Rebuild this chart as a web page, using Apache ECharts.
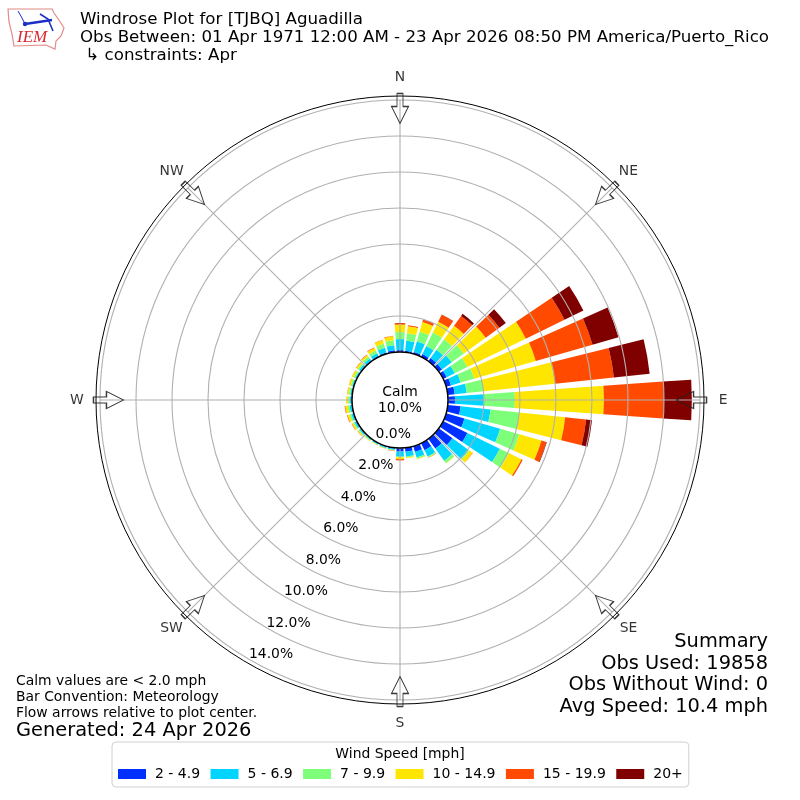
<!DOCTYPE html>
<html><head><meta charset="utf-8">
<style>html,body{margin:0;padding:0;background:#fff}#c{width:800px;height:800px}</style>
<script src="https://cdn.jsdelivr.net/npm/echarts@6/dist/echarts.min.js"></script>
</head><body><div id="c"></div>
<script>
const directions = [0,10,20,30,40,50,60,70,80,90,100,110,120,130,140,150,160,170,180,190,200,210,220,230,240,250,260,270,280,290,300,310,320,330,340,350];
const speed2to5 = [.11,.08,.11,.17,.22,.22,.22,.28,.39,.39,.72,1.06,1.5,.94,.67,.44,.33,.22,.2,.06,.06,.04,.04,.05,.05,.05,.05,.04,.03,.03,.03,.05,.05,.06,.08,.11];
const speed5to7 = [.61,.56,.61,.5,.56,.67,.5,.56,.67,1.61,1.67,2.06,2.0,1.11,.83,.39,.33,.28,.28,.06,.06,.06,.06,.08,.1,.1,.1,.1,.08,.08,.08,.1,.13,.17,.28,.28];
const speed7to10 = [.39,.42,.56,.83,.72,.83,.78,.78,.94,1.72,1.61,1.11,.56,.06,.17,.06,.08,.06,.03,.03,.03,.03,.04,.06,.08,.1,.1,.08,.08,.08,.09,.1,.14,.17,.22,.28];
const speed10to15 = [.42,.39,.56,.67,.94,1.5,3.61,3.56,4.0,4.94,2.56,1.28,.78,.22,.02,.02,.03,.03,.11,.03,.02,.02,.03,.06,.08,.12,.15,.09,.09,.1,.1,.1,.11,.17,.22,.22];
const speed15to20 = [.08,.06,.14,.44,.67,.94,2.39,3.28,3.28,3.33,1.17,.28,.08,.01,0,.01,0,0,.07,.01,0,0,0,.01,.02,.03,.03,.01,.01,.01,.01,.02,.02,.03,.01,.03];
const speed20plus = [0,0,.01,.01,.14,.44,1.17,1.5,2.0,1.56,.33,.03,0,0,0,0,0,0,0,0,0,0,0,0,0,0,0,0,0,0,0,0,0,0,0,0];
const speedNames = ['2 - 4.9','5 - 6.9','7 - 9.9','10 - 14.9','15 - 19.9','20+'];
const speedColors = ['#0030ff','#00d4ff','#7dff7a','#ffe600','#ff4a00','#800000'];
const speedValues = [speed2to5,speed5to7,speed7to10,speed10to15,speed15to20,speed20plus];
const compassNames = ['N','NE','E','SE','S','SW','W','NW'];
const arrowBearings = [0,45,90,135,180,225,270,315];
const arrowRadius = 13.53;
const compassLabelRadius = 15.28;
const headerLines = ['Windrose Plot for [TJBQ] Aguadilla','Obs Between: 01 Apr 1971 12:00 AM - 23 Apr 2026 08:50 PM America/Puerto_Rico',' \u21B3 constraints: Apr'];
const noteLines = ['Calm values are < 2.0 mph','Bar Convention: Meteorology','Flow arrows relative to plot center.'];
const generatedLine = 'Generated: 24 Apr 2026';
const summaryLines = ['Summary','Obs Used: 19858','Obs Without Wind: 0','Avg Speed: 10.4 mph'];
const calmLines = ['Calm','10.0%'];
const legendTitle = 'Wind Speed [mph]';

const FONT = '"DejaVu Sans"';
const CX = 400, CY = 400;
const txt = (text,x,y,size,align) => ({type:'text',z:20,silent:true,x,y,style:{text,font:size+'px '+FONT,fill:'#000',textAlign:align||'left',textVerticalAlign:'middle'}});
const graphics = [
  {type:'circle',z:10,silent:true,shape:{cx:CX,cy:CY,r:304},style:{fill:'none',stroke:'#000',lineWidth:1}},
  {type:'circle',z:10,silent:true,shape:{cx:CX,cy:CY,r:48},style:{fill:'#fff',stroke:'#000',lineWidth:1.5}},
  txt(calmLines[0],400,392,13.9,'center'),txt(calmLines[1],400,408,13.9,'center'),
  txt(headerLines[0],80,20,16.67),txt(headerLines[1],80,37.5,16.67),txt(headerLines[2],80,56,16.67),
  txt(noteLines[0],16,681,13.9),txt(noteLines[1],16,697,13.9),txt(noteLines[2],16,713,13.9),
  txt(generatedLine,16,731,19.4),
  txt(summaryLines[0],768,642,19.4,'right'),txt(summaryLines[1],768,664,19.4,'right'),txt(summaryLines[2],768,685,19.4,'right'),txt(summaryLines[3],768,707,19.4,'right'),
  txt(legendTitle,400,754,13.9,'center'),
  // IEM logo
  {type:'polygon',z:12,silent:true,shape:{points:[[8,9],[52,9],[54,13],[59,20],[64,28],[61,36],[56,41],[55,49],[46,45],[14,46],[12,34],[9,22]]},style:{fill:'#fff',stroke:'#e38a8a',lineWidth:1.2}},
  {type:'polyline',z:13,silent:true,shape:{points:[[25,24],[52,20]]},style:{stroke:'#1a2fc8',lineWidth:2.4,fill:'none'}},
  {type:'polyline',z:13,silent:true,shape:{points:[[18,11],[22,18],[25,24]]},style:{stroke:'#1a2fc8',lineWidth:1,fill:'none'}},
  {type:'polyline',z:13,silent:true,shape:{points:[[40,14],[48,19],[53,31]]},style:{stroke:'#1a2fc8',lineWidth:1.6,fill:'none'}},
  {type:'circle',z:13,silent:true,shape:{cx:25,cy:24,r:2.2},style:{fill:'#1a2fc8'}},
  {type:'text',z:13,silent:true,x:17,y:38,style:{text:'IEM',font:'italic 17px "Liberation Serif"',fill:'#d9282f',textVerticalAlign:'middle'}}
];
const option = {
  animation:false,
  backgroundColor:'#fff',
  polar:[
    {center:[CX,CY],radius:[48,300]},
    {center:[CX,CY],radius:[48,300]},
    {center:[416.5,392],radius:[48,300]}
  ],
  angleAxis:[
    {polarIndex:0,type:'category',data:directions.map(String),boundaryGap:false,startAngle:90,clockwise:true,show:false},
    {polarIndex:1,type:'value',min:0,max:360,interval:45,startAngle:90,clockwise:true,z:5,
      axisLine:{show:false},axisTick:{show:false},axisLabel:{show:false},
      splitLine:{show:true,lineStyle:{color:'#b0b0b0',width:1.1}}},
    {polarIndex:2,type:'value',min:0,max:360,startAngle:241,clockwise:true,show:false}
  ],
  radiusAxis:[
    {polarIndex:0,type:'value',min:0,max:14,show:false},
    {polarIndex:1,type:'value',min:0,max:14,interval:2,z:5,axisLine:{show:false},axisTick:{show:false},axisLabel:{show:false},
      splitLine:{show:true,lineStyle:{color:'#b0b0b0',width:1.1}}},
    {polarIndex:2,type:'value',min:0,max:14,interval:2,z:15,axisLine:{show:false},axisTick:{show:false},splitLine:{show:false},
      axisLabel:{show:true,margin:0,align:'center',verticalAlign:'middle',color:'#000',fontSize:13.9,fontFamily:FONT,hideOverlap:false,formatter:v=>v.toFixed(1)+'%'}}
  ],
  legend:{
    left:112,top:742,padding:[25,6,6,6],orient:'horizontal',
    data:speedNames,itemWidth:28,itemHeight:10,itemGap:10.4,icon:'rect',
    borderColor:'#d0d0d0',borderWidth:1,borderRadius:4,
    textStyle:{color:'#000',fontSize:14,fontFamily:FONT,padding:[0,0,0,4]},selectedMode:false
  },
  graphic:graphics,
  series:speedNames.map((name,i)=>({
    name,type:'bar',coordinateSystem:'polar',polarIndex:0,stack:'wind',z:2,barWidth:'80%',
    itemStyle:{color:speedColors[i]},data:speedValues[i],silent:true
  })).concat([{
    name:'arrows',type:'scatter',coordinateSystem:'polar',polarIndex:1,z:11,silent:true,clip:false,
    symbol:'path://M-3,0 L3,0 L3,13 L8.5,13 L0,30 L-8.5,13 L-3,13 Z',symbolSize:[17,30],
    itemStyle:{color:'none',borderColor:'#222',borderWidth:1.1,opacity:.9},
    data:arrowBearings.map(b=>({value:[arrowRadius,b],symbolRotate:-b}))
  },{
    name:'compass',type:'scatter',coordinateSystem:'polar',polarIndex:1,z:11,silent:true,clip:false,
    symbol:'circle',symbolSize:1,itemStyle:{color:'transparent'},
    label:{show:true,position:'inside',align:'center',verticalAlign:'middle',color:'#000',fontSize:13.9,fontFamily:FONT,formatter:p=>p.name},
    data:arrowBearings.map((b,i)=>({name:compassNames[i],value:[compassLabelRadius,b]}))
  }])
};
const chart = echarts.init(document.getElementById('c'));
chart.setOption(option);
</script></body></html>
